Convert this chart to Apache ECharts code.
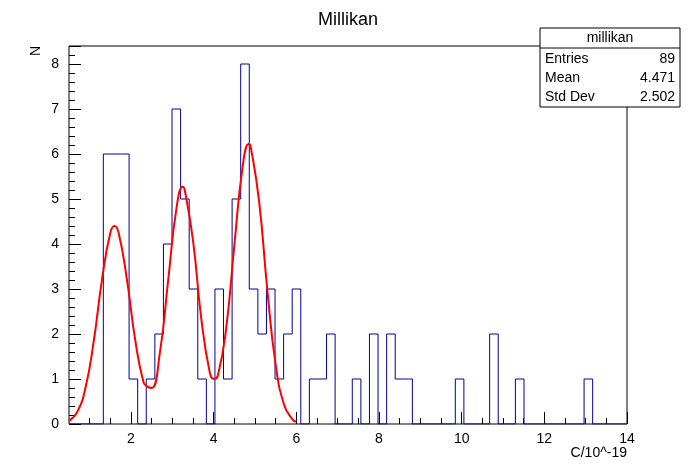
<!DOCTYPE html>
<html>
<head>
<meta charset="utf-8">
<script src="https://cdn.jsdelivr.net/npm/echarts@6/dist/echarts.min.js"></script>
<style>body{margin:0;background:#fff}#c{width:696px;height:472px}</style>
</head>
<body>
<div id="c"></div>
<script>
// histogram: 65 bins from 0.5 to 14
const xMin = 0.5, xMax = 14, nBins = 65;
const counts = [0,0,0,0,6,6,6,1,0,1,2,4,7,5,3,1,0,3,1,5,8,3,2,3,1,2,3,0,1,1,2,0,0,1,0,2,0,2,1,1,0,0,0,0,0,1,0,0,0,2,0,0,1,0,0,0,0,0,0,0,1,0,0,0,0];
// fit curve
const fitX = [0.5,0.7,0.9,1.1,1.3,1.5,1.6,1.7,1.9,2.1,2.3,2.4,2.5,2.7,2.9,3.1,3.25,3.3,3.5,3.7,3.9,4.0,4.1,4.3,4.5,4.7,4.85,4.9,5.1,5.3,5.5,5.7,5.9,6.0];
const fitY = [0.07,0.27,0.81,1.85,3.22,4.25,4.4,4.25,3.22,1.88,0.94,0.83,0.8,1.59,3.2,4.79,5.27,5.2,4.08,2.35,1.17,1.0,1.07,2.11,3.97,5.71,6.22,6.14,4.94,2.96,1.32,0.44,0.11,0.05];
const xTickLabels = [2,4,6,8,10,12,14];
const stats = [['Entries','89'],['Mean','4.471'],['Std Dev','2.502']];

const bw = (xMax - xMin) / nBins;
const histData = counts.map((c, i) => [xMin + i * bw, c]);
histData.push([xMax, counts[nBins - 1]]);

const font = 'Liberation Sans';
const chart = echarts.init(document.getElementById('c'));
const g = [
    {type: 'rect', shape: {x: 540, y: 28, width: 140, height: 79}, style: {fill: '#fff', stroke: '#000', lineWidth: 1}, z: 10},
    {type: 'line', shape: {x1: 540, y1: 48, x2: 680, y2: 48}, style: {stroke: '#000'}, z: 11},
    {type: 'text', x: 610, y: 38, style: {text: 'millikan', font: '14px ' + font, textAlign: 'center', textVerticalAlign: 'middle'}, z: 11}
];
stats.forEach((r, i) => {
    g.push({type: 'text', x: 545, y: 59 + i * 19, style: {text: r[0], font: '14px ' + font, textVerticalAlign: 'middle'}, z: 11});
    g.push({type: 'text', x: 675, y: 59 + i * 19, style: {text: r[1], font: '14px ' + font, textAlign: 'right', textVerticalAlign: 'middle'}, z: 11});
});

chart.setOption({
    animation: false,
    title: {text: 'Millikan', left: 'center', top: 6, textStyle: {fontFamily: font, fontSize: 18, fontWeight: 'normal', color: '#000'}},
    grid: {left: 69, right: 69, top: 46, bottom: 48, show: true, borderColor: '#000', borderWidth: 1},
    xAxis: [
        {type: 'value', min: xMin, max: xMax,
         axisLine: {show: false}, splitLine: {show: false},
         axisTick: {inside: true, length: 12, customValues: xTickLabels, lineStyle: {color: '#000'}},
         axisLabel: {customValues: xTickLabels, color: '#000', fontFamily: font, fontSize: 14, margin: 8},
         name: 'C/10^-19', nameLocation: 'end', nameGap: 0,
         nameTextStyle: {fontFamily: font, fontSize: 14, color: '#000', align: 'right', verticalAlign: 'top', padding: [22, 0, 0, 0]}},
        {type: 'value', min: xMin, max: xMax, position: 'bottom',
         axisLine: {show: false}, splitLine: {show: false}, axisLabel: {show: false},
         axisTick: {inside: true, length: 6, customValues: [1,1.5,2.5,3,3.5,4.5,5,5.5,6.5,7,7.5,8.5,9,9.5,10.5,11,11.5,12.5,13,13.5], lineStyle: {color: '#000'}}}
    ],
    yAxis: {type: 'value', min: 0, max: 8.4, interval: 1,
        axisLine: {show: false}, splitLine: {show: false},
        axisTick: {inside: true, length: 12, lineStyle: {color: '#000'}},
        minorTick: {show: true, splitNumber: 5, length: 6, lineStyle: {color: '#000'}},
        axisLabel: {color: '#000', fontFamily: font, fontSize: 14, margin: 10, showMaxLabel: false},
        name: 'N', nameLocation: 'end', nameRotate: 90, nameGap: 0,
        nameTextStyle: {fontFamily: font, fontSize: 14, color: '#000', align: 'right', verticalAlign: 'bottom', padding: [0, 0, 26, 0]}},
    series: [
        {type: 'line', data: histData, step: 'end', symbol: 'none', lineStyle: {color: '#000099', width: 1}},
        {type: 'line', data: fitX.map((x, i) => [x, fitY[i]]), smooth: true, symbol: 'none', lineStyle: {color: '#ff0000', width: 2}}
    ],
    graphic: g
});
</script>
</body>
</html>
